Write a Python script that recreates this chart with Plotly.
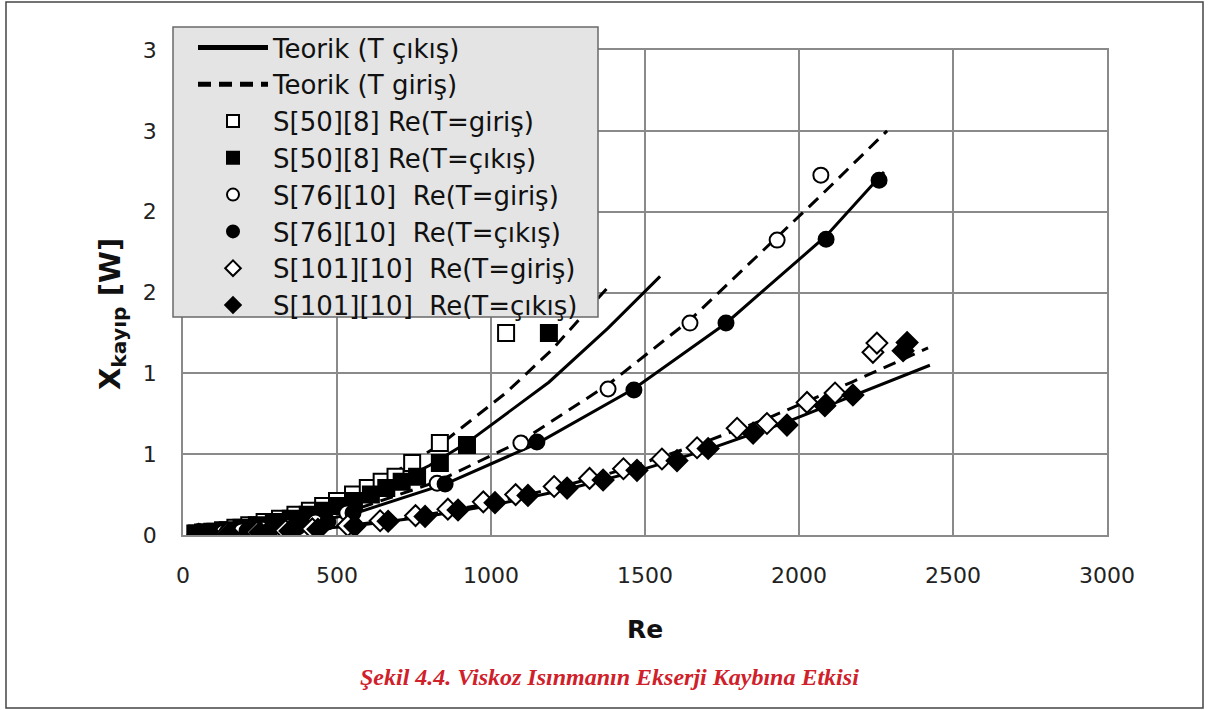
import plotly.graph_objects as go

# ---- measured data: Re and exergy loss X_kayip [W] ----
re_50_giris = [40, 65, 95, 130, 170, 215, 265, 315, 365, 412, 455, 500, 552, 600, 645, 690, 744, 834, 1049]
x_50_giris = [0.01, 0.015, 0.02, 0.03, 0.045, 0.06, 0.08, 0.10, 0.125, 0.15, 0.18, 0.21, 0.25, 0.29, 0.33, 0.36, 0.445, 0.569, 1.249]
re_50_cikis = [45, 72, 105, 145, 190, 240, 295, 350, 405, 455, 505, 555, 610, 660, 710, 760, 834, 922, 1188]
x_50_cikis = [0.01, 0.015, 0.02, 0.03, 0.045, 0.06, 0.08, 0.10, 0.125, 0.15, 0.18, 0.21, 0.25, 0.29, 0.33, 0.36, 0.445, 0.557, 1.249]

re_76_giris = [40, 80, 130, 190, 260, 340, 430, 532, 825, 1097, 1380, 1646, 1929, 2071]
x_76_giris = [0.005, 0.01, 0.015, 0.025, 0.035, 0.05, 0.08, 0.136, 0.32, 0.569, 0.903, 1.311, 1.824, 2.226]
re_76_cikis = [45, 88, 143, 208, 285, 372, 470, 552, 851, 1149, 1464, 1763, 2088, 2260]
x_76_cikis = [0.005, 0.01, 0.015, 0.025, 0.035, 0.05, 0.08, 0.136, 0.315, 0.575, 0.897, 1.311, 1.83, 2.195]

re_101_giris = [50, 142, 240, 333, 420, 535, 640, 755, 860, 975, 1080, 1205, 1320, 1430, 1555, 1669, 1799, 1896, 2026, 2117, 2240, 2253]
x_101_giris = [0.004, 0.009, 0.017, 0.027, 0.038, 0.058, 0.088, 0.12, 0.16, 0.205, 0.25, 0.30, 0.35, 0.41, 0.47, 0.54, 0.66, 0.69, 0.82, 0.878, 1.13, 1.187]
re_101_cikis = [55, 149, 250, 347, 438, 558, 666, 786, 893, 1013, 1120, 1247, 1364, 1474, 1604, 1705, 1851, 1961, 2084, 2175, 2338, 2351]
x_101_cikis = [0.003, 0.008, 0.015, 0.025, 0.035, 0.055, 0.085, 0.115, 0.155, 0.2, 0.245, 0.29, 0.34, 0.40, 0.46, 0.535, 0.63, 0.68, 0.80, 0.866, 1.14, 1.19]

# ---- theoretical curves ----
re_th50_cikis = [30, 200, 400, 600, 800, 922, 1188, 1380, 1549]
x_th50_cikis = [0.001, 0.027, 0.107, 0.24, 0.43, 0.57, 0.945, 1.28, 1.6]
re_th50_giris = [30, 200, 400, 600, 834, 1049, 1200, 1386]
x_th50_giris = [0.001, 0.032, 0.128, 0.288, 0.557, 0.88, 1.15, 1.546]
re_th76_cikis = [40, 300, 552, 851, 1149, 1464, 1763, 2088, 2276]
x_th76_cikis = [0.001, 0.038, 0.13, 0.315, 0.565, 0.905, 1.31, 1.85, 2.245]
re_th76_giris = [40, 300, 532, 825, 1097, 1380, 1646, 1929, 2071, 2286]
x_th76_giris = [0.001, 0.045, 0.14, 0.33, 0.58, 0.93, 1.33, 1.84, 2.1, 2.5]
re_th101_cikis = [40, 300, 558, 786, 1013, 1247, 1474, 1705, 1961, 2175, 2425]
x_th101_cikis = [0.001, 0.017, 0.057, 0.113, 0.187, 0.283, 0.395, 0.53, 0.70, 0.86, 1.05]
re_th101_giris = [40, 300, 540, 760, 980, 1210, 1430, 1665, 1896, 2172, 2419]
x_th101_giris = [0.001, 0.018, 0.058, 0.115, 0.19, 0.29, 0.405, 0.555, 0.72, 0.946, 1.157]

# ---- axis ticks ----
x_tickvals = [0, 500, 1000, 1500, 2000, 2500, 3000]
x_ticktext = ["0", "500", "1000", "1500", "2000", "2500", "3000"]
y_tickvals = [0, 0.5, 1, 1.5, 2, 2.5, 3]
y_ticktext = ["0", "1", "1", "2", "2", "3", "3"]

FONT = "DejaVu Sans"
DASH = "13px,8px"

# plot-area geometry in pixels (used to place paper-referenced items)
W, H = 1209, 710
L, R, T, B = 183, 102, 50, 175
PW, PH = W - L - R, H - T - B


def px(xpix):
    return (xpix - L) / PW


def py(ypix):
    return (H - B - ypix) / PH


fig = go.Figure()

solid_sets = [(re_th50_cikis, x_th50_cikis), (re_th76_cikis, x_th76_cikis), (re_th101_cikis, x_th101_cikis)]
dashed_sets = [(re_th50_giris, x_th50_giris), (re_th76_giris, x_th76_giris), (re_th101_giris, x_th101_giris)]

for i, (xs, ys) in enumerate(solid_sets):
    fig.add_trace(go.Scatter(x=xs, y=ys, mode="lines", name="Teorik (T çıkış)",
                             line=dict(color="black", width=3),
                             legendgroup="solid", showlegend=(i == 0)))
for i, (xs, ys) in enumerate(dashed_sets):
    fig.add_trace(go.Scatter(x=xs, y=ys, mode="lines", name="Teorik (T giriş)",
                             line=dict(color="black", width=3, dash=DASH),
                             legendgroup="dashed", showlegend=(i == 0)))

marker_series = [
    ("S[50][8] Re(T=giriş)", re_50_giris, x_50_giris, "square", "white", 16),
    ("S[50][8] Re(T=çıkış)", re_50_cikis, x_50_cikis, "square", "black", 16),
    ("S[76][10]\u00a0 Re(T=giriş)", re_76_giris, x_76_giris, "circle", "white", 15),
    ("S[76][10]\u00a0 Re(T=çıkış)", re_76_cikis, x_76_cikis, "circle", "black", 15),
    ("S[101][10]\u00a0 Re(T=giriş)", re_101_giris, x_101_giris, "diamond", "white", 16),
    ("S[101][10]\u00a0 Re(T=çıkış)", re_101_cikis, x_101_cikis, "diamond", "black", 16),
]
for k, (name, xs, ys, sym, fill, size) in enumerate(marker_series):
    fig.add_trace(go.Scatter(x=xs, y=ys, mode="markers", name=name,
                             marker=dict(symbol=sym, color=fill, size=size,
                                         line=dict(color="black", width=2)),
                             legendgroup="m%d" % k))

grid = "#8a8a8a"
fig.update_xaxes(range=[0, 3000], tickvals=x_tickvals, ticktext=x_ticktext,
                 showgrid=True, gridcolor=grid, gridwidth=1.5,
                 showline=True, linecolor=grid, linewidth=1.5, mirror=True,
                 zeroline=False, ticks="", ticklabelstandoff=20,
                 tickfont=dict(family=FONT, size=22, color="#222"),
                 title=dict(text="<b>Re</b>", font=dict(family=FONT, size=25, color="#111"), standoff=33))
fig.update_yaxes(range=[0, 3], tickvals=y_tickvals, ticktext=y_ticktext,
                 showgrid=True, gridcolor=grid, gridwidth=1.5,
                 showline=True, linecolor=grid, linewidth=1.5, mirror=True,
                 zeroline=False, ticks="", ticklabelstandoff=20,
                 tickfont=dict(family=FONT, size=22, color="#222"))

fig.update_layout(
    width=W, height=H,
    margin=dict(l=L, r=R, t=T, b=B),
    paper_bgcolor="white", plot_bgcolor="white",
    font=dict(family=FONT, color="#111"),
    legend=dict(x=px(193), y=py(24), xanchor="left", yanchor="top",
                bgcolor="rgba(0,0,0,0)", borderwidth=0,
                font=dict(family=FONT, size=26, color="#111"),
                traceorder="normal", tracegroupgap=3, itemwidth=70,
                itemsizing="constant"),
    shapes=[
        # legend panel
        dict(type="rect", xref="paper", yref="paper", layer="above",
             x0=px(173), x1=px(598), y0=py(317), y1=py(27),
             fillcolor="#e4e4e4", line=dict(color="#6a6a6a", width=1.5)),
        # outer frame
        dict(type="rect", xref="paper", yref="paper",
             x0=px(6), x1=px(1203), y0=py(708), y1=py(2),
             line=dict(color="#444", width=1.5)),
    ],
    annotations=[
        # y-axis title
        dict(text="<b>X<sub>kayıp</sub> [W]</b>", xref="paper", yref="paper",
             x=px(112), y=py(314), xanchor="center", yanchor="middle",
             textangle=-90, showarrow=False,
             font=dict(family=FONT, size=29, color="#111")),
        # figure caption
        dict(text="<b><i>Şekil 4.4. Viskoz Isınmanın Ekserji Kaybına Etkisi</i></b>",
             xref="paper", yref="paper", x=px(609), y=py(677),
             xanchor="center", yanchor="middle", showarrow=False,
             font=dict(family="Liberation Serif", size=24, color="#d0202a")),
    ],
)

fig.write_html("out.html")
